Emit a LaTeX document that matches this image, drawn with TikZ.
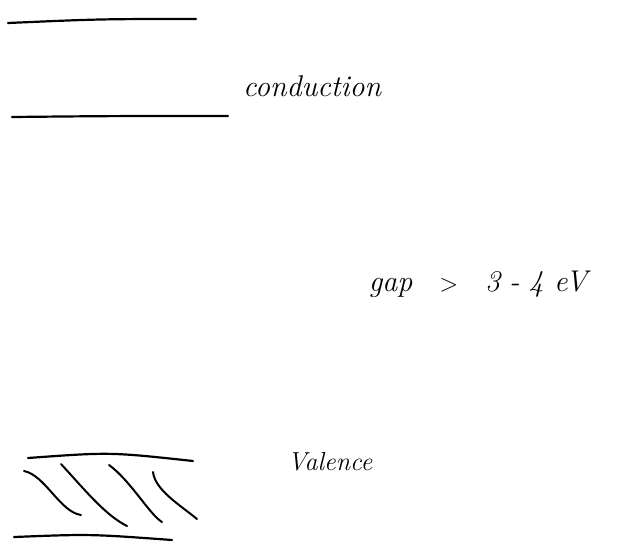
\documentclass[tikz,border=0pt]{standalone}
\begin{document}
\begin{tikzpicture}[x=1pt,y=-1pt,
  band/.style={line width=2.2pt,line cap=round},
  hatch/.style={line width=2pt,line cap=round},
  lbl/.style={font=\fontsize{26}{30}\selectfont\itshape,inner sep=0pt},
  biglbl/.style={font=\fontsize{30}{34}\selectfont\itshape,inner sep=0pt}]
\useasboundingbox (0,0) rectangle (628,552);
% conduction band
\coordinate (c1a) at (8,23); \coordinate (c1b) at (196,19);
\coordinate (c2a) at (12,117); \coordinate (c2b) at (228,116);
\draw[band] (c1a) .. controls (100,19) .. (c1b);
\draw[band] (c2a) .. controls (110,116) .. (c2b);
\node[biglbl] (cond) at (312,86) {conduction};
% gap
\node[biglbl] (gap) at (478,284) {gap\hspace{0.9em}$>$\hspace{0.9em}3\hspace{0.3em}-\hspace{0.3em}4 eV};
% valence band
\coordinate (v1a) at (28,458); \coordinate (v1b) at (193,461);
\coordinate (v2a) at (14,537); \coordinate (v2b) at (172,540);
\draw[band] (v1a) .. controls (110,452) .. (v1b);
\draw[band] (v2a) .. controls (90,534) .. (v2b);
\draw[hatch] (24,471) .. controls (45,475) and (60,512) .. (81,515);
\draw[hatch] (61,464) .. controls (85,490) and (105,515) .. (127,526);
\draw[hatch] (109,465) .. controls (130,480) and (150,515) .. (162,522);
\draw[hatch] (153,472) .. controls (155,490) and (180,505) .. (197,519);
\node[lbl] (val) at (330,462) {Valence};
\end{tikzpicture}
\end{document}
